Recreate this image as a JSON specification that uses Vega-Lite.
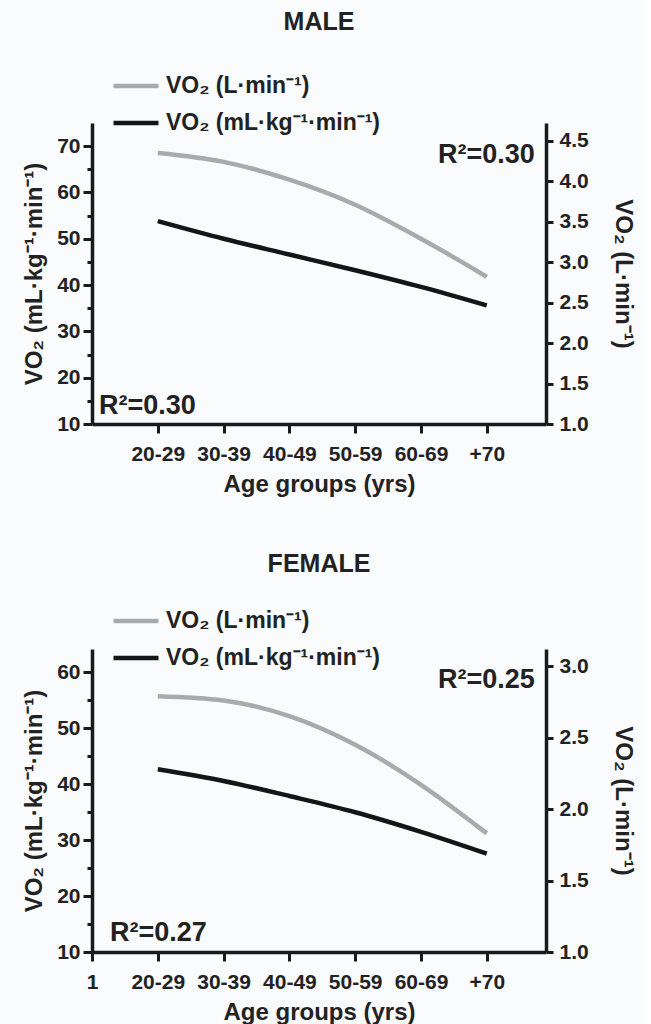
{
  "$schema": "https://vega.github.io/schema/vega-lite/v6.json",
  "background": "#fafbfd",
  "padding": {"left": 22, "top": 10, "right": 8, "bottom": 0},
  "config": {
    "font": "Liberation Sans",
    "view": {"stroke": null},
    "axis": {
      "labelFont": "Liberation Sans", "labelFontWeight": "bold", "labelFontSize": 21, "labelColor": "#222222",
      "titleFont": "Liberation Sans", "titleFontWeight": "bold", "titleFontSize": 24, "titleColor": "#222222",
      "domainColor": "#1a1a1a", "domainWidth": 3.5, "tickColor": "#1a1a1a", "tickWidth": 3, "grid": false
    },
    "title": {"font": "Liberation Sans", "fontSize": 25, "fontWeight": "bold", "color": "#222222"},
    "legend": {
      "title": null, "symbolType": "stroke", "symbolStrokeWidth": 4.5, "symbolSize": 2025,
      "labelFont": "Liberation Sans", "labelFontSize": 23, "labelFontWeight": "bold", "labelColor": "#222222",
      "rowPadding": -17, "labelOffset": 5, "labelLimit": 400
    }
  },
  "data": {"values": [
    {"sex": "MALE", "age": "20-29", "abs": 4.35, "rel": 53.8},
    {"sex": "MALE", "age": "30-39", "abs": 4.24, "rel": 50.0},
    {"sex": "MALE", "age": "40-49", "abs": 4.02, "rel": 46.6},
    {"sex": "MALE", "age": "50-59", "abs": 3.71, "rel": 43.2},
    {"sex": "MALE", "age": "60-69", "abs": 3.29, "rel": 39.6},
    {"sex": "MALE", "age": "+70", "abs": 2.82, "rel": 35.6},
    {"sex": "FEMALE", "age": "20-29", "abs": 2.79, "rel": 42.7},
    {"sex": "FEMALE", "age": "30-39", "abs": 2.76, "rel": 40.6},
    {"sex": "FEMALE", "age": "40-49", "abs": 2.65, "rel": 37.9},
    {"sex": "FEMALE", "age": "50-59", "abs": 2.45, "rel": 35.0},
    {"sex": "FEMALE", "age": "60-69", "abs": 2.17, "rel": 31.5},
    {"sex": "FEMALE", "age": "+70", "abs": 1.83, "rel": 27.6}
  ]},
  "spacing": 56,
  "resolve": {"scale": {"color": "independent", "x": "independent"}, "legend": {"color": "independent"}},
  "vconcat": [
    {
      "title": {"text": "MALE", "offset": 26},
      "width": 454, "height": 301,
      "transform": [{"filter": "datum.sex === 'MALE'"}],
      "encoding": {
        "x": {"field": "age", "type": "ordinal", "sort": null,
          "scale": {"type": "point", "domain": ["1", "20-29", "30-39", "40-49", "50-59", "60-69", "+70"], "padding": 0.45, "align": 0},
          "axis": {"values": ["20-29", "30-39", "40-49", "50-59", "60-69", "+70"], "title": "Age groups (yrs)", "labelAngle": 0, "tickSize": 9, "labelPadding": 10, "titlePadding": 8}}
      },
      "layer": [
        {
          "mark": {"type": "line", "interpolate": "monotone", "strokeWidth": 4.5},
          "encoding": {
            "y": {"field": "abs", "type": "quantitative",
              "scale": {"domain": [1, 4.72], "nice": false, "zero": false},
              "axis": {"orient": "right", "values": [1, 1.5, 2, 2.5, 3, 3.5, 4, 4.5], "format": ".1f", "title": "VO₂ (L·min⁻¹)", "tickSize": 7, "labelPadding": 6, "titlePadding": 22}},
            "color": {"datum": "VO₂ (L·min⁻¹)",
              "scale": {"domain": ["VO₂ (L·min⁻¹)", "VO₂ (mL·kg⁻¹·min⁻¹)"], "range": ["#aaaaaa", "#151515"]},
              "legend": {"orient": "none", "legendX": 19, "legendY": -62}}
          }
        },
        {
          "mark": {"type": "line", "interpolate": "monotone", "strokeWidth": 4.5},
          "encoding": {
            "y": {"field": "rel", "type": "quantitative",
              "scale": {"domain": [10, 75], "nice": false, "zero": false},
              "axis": {"orient": "left", "values": [10, 15, 20, 25, 30, 35, 40, 45, 50, 55, 60, 65, 70],
                "labelExpr": "datum.value % 10 === 0 ? datum.label : ''",
                "tickSize": {"condition": {"test": "datum.value % 10 === 0", "value": 9}, "value": 5},
                "title": "VO₂ (mL·kg⁻¹·min⁻¹)", "labelPadding": 3, "titlePadding": 10}},
            "color": {"datum": "VO₂ (mL·kg⁻¹·min⁻¹)"}
          }
        },
        {
          "data": {"values": [{"note": "R²=0.30"}]},
          "mark": {"type": "text", "align": "right", "baseline": "alphabetic", "fontSize": 27, "fontWeight": "bold", "color": "#222222", "dx": 48},
          "encoding": {
            "x": {"datum": "+70"},
            "y": {"datum": 66.3, "type": "quantitative", "scale": {"domain": [10, 75], "nice": false, "zero": false}, "axis": null},
            "text": {"field": "note"}
          }
        },
        {
          "data": {"values": [{"note": "R²=0.30"}]},
          "mark": {"type": "text", "align": "left", "baseline": "alphabetic", "fontSize": 27, "fontWeight": "bold", "color": "#222222", "dx": 7},
          "encoding": {
            "x": {"datum": "1"},
            "y": {"datum": 12.2, "type": "quantitative", "scale": {"domain": [10, 75], "nice": false, "zero": false}, "axis": null},
            "text": {"field": "note"}
          }
        }
      ],
      "resolve": {"scale": {"y": "independent"}}
    },
    {
      "title": {"text": "FEMALE", "offset": 19},
      "width": 454, "height": 303,
      "transform": [{"filter": "datum.sex === 'FEMALE'"}],
      "encoding": {
        "x": {"field": "age", "type": "ordinal", "sort": null,
          "scale": {"type": "point", "domain": ["1", "20-29", "30-39", "40-49", "50-59", "60-69", "+70"], "padding": 0.45, "align": 0},
          "axis": {"title": "Age groups (yrs)", "labelAngle": 0, "tickSize": 9, "labelPadding": 10, "titlePadding": 8}}
      },
      "layer": [
        {
          "mark": {"type": "line", "interpolate": "monotone", "strokeWidth": 4.5},
          "encoding": {
            "y": {"field": "abs", "type": "quantitative",
              "scale": {"domain": [1, 3.12], "nice": false, "zero": false},
              "axis": {"orient": "right", "values": [1, 1.5, 2, 2.5, 3], "format": ".1f", "title": "VO₂ (L·min⁻¹)", "tickSize": 7, "labelPadding": 6, "titlePadding": 22}},
            "color": {"datum": "VO₂ (L·min⁻¹)",
              "scale": {"domain": ["VO₂ (L·min⁻¹)", "VO₂ (mL·kg⁻¹·min⁻¹)"], "range": ["#aaaaaa", "#151515"]},
              "legend": {"orient": "none", "legendX": 19, "legendY": -53}}
          }
        },
        {
          "mark": {"type": "line", "interpolate": "monotone", "strokeWidth": 4.5},
          "encoding": {
            "y": {"field": "rel", "type": "quantitative",
              "scale": {"domain": [10, 64.2], "nice": false, "zero": false},
              "axis": {"orient": "left", "values": [10, 15, 20, 25, 30, 35, 40, 45, 50, 55, 60],
                "labelExpr": "datum.value % 10 === 0 ? datum.label : ''",
                "tickSize": {"condition": {"test": "datum.value % 10 === 0", "value": 9}, "value": 5},
                "title": "VO₂ (mL·kg⁻¹·min⁻¹)", "labelPadding": 3, "titlePadding": 10}},
            "color": {"datum": "VO₂ (mL·kg⁻¹·min⁻¹)"}
          }
        },
        {
          "data": {"values": [{"note": "R²=0.25"}]},
          "mark": {"type": "text", "align": "right", "baseline": "alphabetic", "fontSize": 27, "fontWeight": "bold", "color": "#222222", "dx": 48},
          "encoding": {
            "x": {"datum": "+70"},
            "y": {"datum": 57.3, "type": "quantitative", "scale": {"domain": [10, 64.2], "nice": false, "zero": false}, "axis": null},
            "text": {"field": "note"}
          }
        },
        {
          "data": {"values": [{"note": "R²=0.27"}]},
          "mark": {"type": "text", "align": "left", "baseline": "alphabetic", "fontSize": 27, "fontWeight": "bold", "color": "#222222", "dx": 18},
          "encoding": {
            "x": {"datum": "1"},
            "y": {"datum": 11.9, "type": "quantitative", "scale": {"domain": [10, 64.2], "nice": false, "zero": false}, "axis": null},
            "text": {"field": "note"}
          }
        }
      ],
      "resolve": {"scale": {"y": "independent"}}
    }
  ]
}
